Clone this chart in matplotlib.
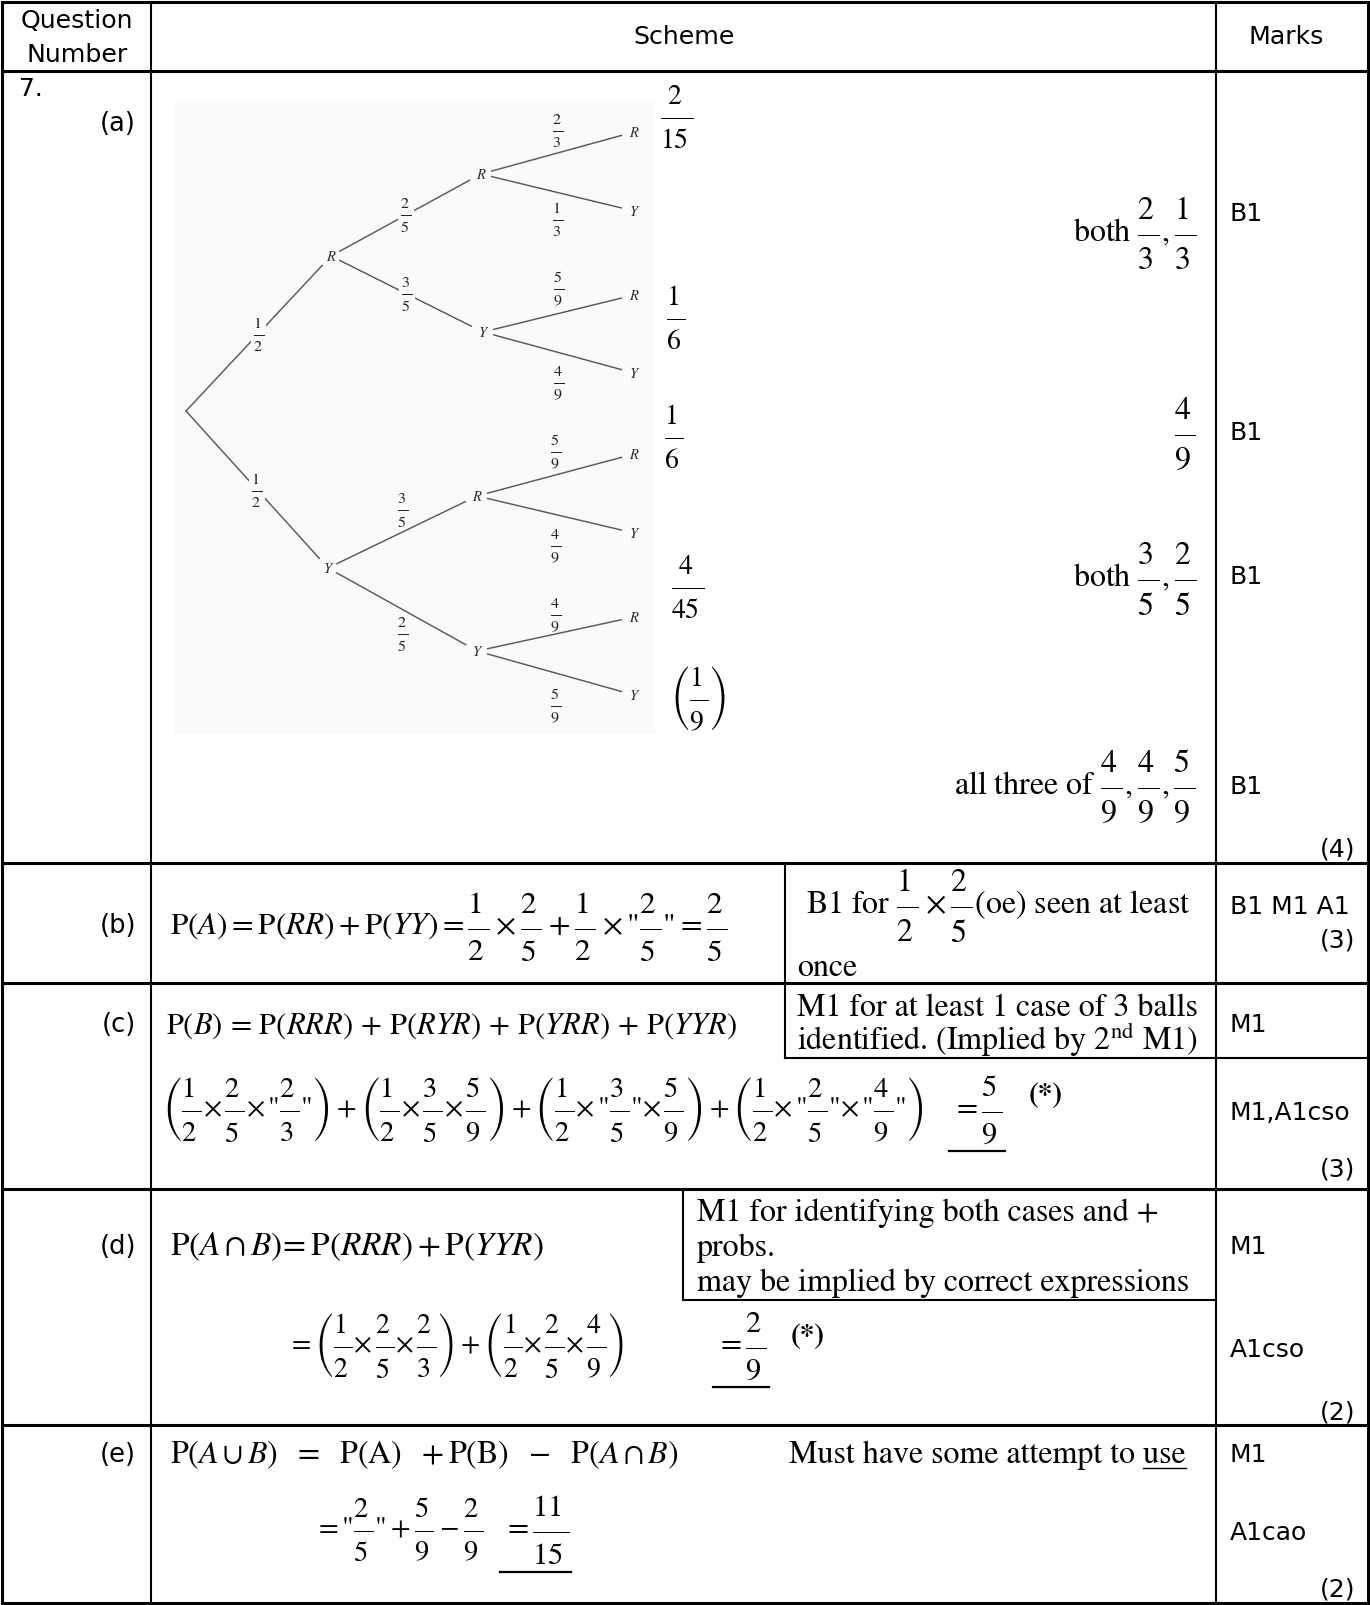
import math
import matplotlib
matplotlib.use('Agg')
import matplotlib.pyplot as plt
from matplotlib.patches import Rectangle
from matplotlib.mathtext import MathTextParser

plt.rcParams['mathtext.fontset'] = 'stix'
plt.rcParams['font.family'] = ['DejaVu Sans']
SERIF = 'STIXGeneral'
SANS = 'DejaVu Sans'

# ---------------- data ----------------
header_labels = ['Question\nNumber', 'Scheme', 'Marks']
question_number = '7.'
part_labels = ['(a)', '(b)', '(c)', '(d)', '(e)']
part_totals = ['(4)', '(3)', '(3)', '(2)', '(2)']

tree_level1_nodes = ['R', 'Y']
tree_level1_probs = ['1/2', '1/2']
tree_level2_nodes = ['R', 'Y', 'R', 'Y']
tree_level2_probs = ['2/5', '3/5', '3/5', '2/5']
tree_level3_nodes = ['R', 'Y', 'R', 'Y', 'R', 'Y', 'R', 'Y']
tree_level3_probs = ['2/3', '1/3', '5/9', '4/9', '5/9', '4/9', '4/9', '5/9']
tree_outcome_probs = ['2/15', '1/6', '1/6', '4/45', '(1/9)']

a_prefixes = ['both', '', 'both', 'all three of']
a_fracs = [['2/3', '1/3'], ['4/9'], ['3/5', '2/5'], ['4/9', '4/9', '5/9']]
a_marks = ['B1', 'B1', 'B1', 'B1']

b_products = [['1/2', '2/5'], ['1/2', '"2/5"']]
b_result = '2/5'
b_note = ['B1 for', ['1/2', '2/5'], '(oe) seen at least', 'once']
b_marks = ['B1 M1 A1']

c_events = ['RRR', 'RYR', 'YRR', 'YYR']
c_products = [['1/2', '2/5', '"2/3"'], ['1/2', '3/5', '5/9'],
              ['1/2', '"3/5"', '5/9'], ['1/2', '"2/5"', '"4/9"']]
c_result = '5/9'
c_note = ['M1 for at least 1 case of 3 balls', 'identified. (Implied by 2', 'nd', ' M1)']
c_marks = ['M1', 'M1,A1cso']

d_events = ['RRR', 'YYR']
d_products = [['1/2', '2/5', '2/3'], ['1/2', '2/5', '4/9']]
d_result = '2/9'
d_note = ['M1 for identifying both cases and +', 'probs.',
          'may be implied by correct expressions']
d_marks = ['M1', 'A1cso']

e_terms = ['"2/5"', '5/9', '2/9']
e_result = '11/15'
e_note = ['Must have some attempt to', 'use']
e_marks = ['M1', 'A1cao']


# ---------------- helpers ----------------
_parser = MathTextParser('path')


def _ok(s):
    try:
        _parser.parse(s, 72)
        return True
    except Exception:
        return False


def pick_quote():
    for q in [r'\text{"}', '\u2033', r'\prime\prime']:
        if _ok('$' + q + '$'):
            return q
    return "''"


Q = pick_quote()
NUM_T = r'{\genfrac{}{}{0}{0}{%s}{\,}}'
DEN_T = r'{\genfrac{}{}{0}{0}{\,}{%s}}'
NEST = _ok('$\\dfrac{' + NUM_T % '2' + '}{' + DEN_T % '3' + '}$')
TIGHT_X = r'{\times}\,' if _ok(r'$2{\times}\,3$') else r'\times '


def fr(s):
    quoted = s.startswith('"')
    core = s.strip('"')
    paren = core.startswith('(')
    core = core.strip('()')
    n, d = core.split('/')
    if NEST:
        n = NUM_T % n
        d = DEN_T % d
    body = r'\dfrac{%s}{%s}' % (n, d)
    if paren:
        body = r'\left(' + body + r'\right)'
    if quoted:
        body = Q + body + Q
    return body


def prod(items, tight=False):
    return (TIGHT_X if tight else r'\times ').join(fr(i) for i in items)


W, H = 1370, 1606
fig = plt.figure(figsize=(W / 100, H / 100), dpi=100)
ax = fig.add_axes([0, 0, 1, 1])
ax.set_xlim(0, W)
ax.set_ylim(H, 0)
ax.axis('off')


def T(x, y, s, size, ha='left', va='center', family=SERIF, **kw):
    return ax.text(x, y, s, fontsize=size, ha=ha, va=va, family=family, **kw)


def hline(x0, x1, y, lw):
    ax.plot([x0, x1], [y, y], color='black', lw=lw, solid_capstyle='projecting')


def vline(x, y0, y1, lw):
    ax.plot([x, x], [y0, y1], color='black', lw=lw, solid_capstyle='projecting')


# ---------------- table grid ----------------
XL, XQ, XM, XR = 2, 151, 1216, 1368
YT, YH = 3, 72
row_bounds = [72, 864, 984, 1190, 1426, 1604]
THICK, THIN = 2.2, 1.5

hline(XL, XR, YT, THICK)
for yb in row_bounds:
    hline(XL, XR, yb, THICK)
for xv in [XL, XQ, XM, XR]:
    vline(xv, YT, row_bounds[-1], THIN if xv in (XQ, XM) else THICK)

# note boxes
vline(785, 864, 984, THIN)
vline(785, 984, 1059, THIN)
hline(785, XR, 1059, THIN)
vline(683, 1190, 1301, THIN)
hline(683, XM, 1301, THIN)

# ---------------- header ----------------
T(77, 38, header_labels[0], 18.2, ha='center', family=SANS, linespacing=1.5)
T(684, 37, header_labels[1], 18.2, ha='center', family=SANS)
T(1286, 37, header_labels[2], 18.2, ha='center', family=SANS)

# question / part labels
T(19, 89, question_number, 18, family=SANS)
part_y = [124, 926, 1025, 1247, 1455]
for lab, yp in zip(part_labels, part_y):
    T(136, yp, lab, 18.5, ha='right', family=SANS)
total_y = [850, 941, 1170, 1413, 1590]
for lab, yp in zip(part_totals, total_y):
    T(1355, yp, lab, 18, ha='right', family=SANS)

# ---------------- tree diagram ----------------
BG = '#fafafa'
ax.add_patch(Rectangle((174, 102), 481, 633, fc=BG, ec='none', zorder=0))
LINE_C = '#5a5a5a'
root = (186, 412)
lvl1 = [(331, 257), (328, 569)]
lvl2 = [(481, 175), (483, 333), (477, 497), (477, 652)]
lvl3_x = 634
lvl3_y = [133, 212, 296, 374, 455, 534, 618, 696]
lvl3 = [(lvl3_x, yv) for yv in lvl3_y]


def branch(p, c, d0, d1):
    dx, dy = c[0] - p[0], c[1] - p[1]
    L = math.hypot(dx, dy)
    ux, uy = dx / L, dy / L
    a = (p[0] + ux * d0, p[1] + uy * d0)
    b = (c[0] - ux * d1, c[1] - uy * d1)
    ax.plot([a[0], b[0]], [a[1], b[1]], color=LINE_C, lw=1.05, zorder=1)
    return ((p[0] + c[0]) / 2, (p[1] + c[1]) / 2)


node_style = dict(style='italic', color='#2a2a3a')
lab_bbox = dict(boxstyle='square,pad=0.1', fc=BG, ec='none')
TREE_FS = 11.5

for i, (node, pr) in enumerate(zip(tree_level1_nodes, tree_level1_probs)):
    mx, my = branch(root, lvl1[i], 0, 13)
    T(lvl1[i][0], lvl1[i][1], node, 10.5, ha='center', **node_style)
    T(mx, my, '$' + fr(pr) + '$', TREE_FS, ha='center', color='#222222', bbox=lab_bbox, zorder=3)

l2_dy = [0, 0, -22, 24]
for j, (node, pr) in enumerate(zip(tree_level2_nodes, tree_level2_probs)):
    par = lvl1[j // 2]
    mx, my = branch(par, lvl2[j], 10, 13)
    T(lvl2[j][0], lvl2[j][1], node, 10.5, ha='center', **node_style)
    kw = dict(bbox=lab_bbox) if l2_dy[j] == 0 else {}
    T(mx, my + l2_dy[j], '$' + fr(pr) + '$', TREE_FS, ha='center', color='#222222', zorder=3, **kw)

l3_dy = [-23, 26, -25, 30, -24, 31, -19, 32]
for k, (node, pr) in enumerate(zip(tree_level3_nodes, tree_level3_probs)):
    par = lvl2[k // 2]
    mx, my = branch(par, lvl3[k], 11, 13)
    T(lvl3[k][0], lvl3[k][1], node, 10.5, ha='center', **node_style)
    T(mx, my + l3_dy[k], '$' + fr(pr) + '$', TREE_FS, ha='center', color='#222222', zorder=3)

outcome_pos = [(677, 117), (676, 318), (674, 437), (688, 587), (698, 699)]
for pr, (xo, yo) in zip(tree_outcome_probs, outcome_pos):
    T(xo, yo, '$' + fr(pr) + '$', 20, ha='center')

# (a) right-hand notes and marks
a_note_y = [233, 434, 579, 787]
for pre, fl, yv in zip(a_prefixes, a_fracs, a_note_y):
    s = ','.join(fr(f) for f in fl)
    txt = (pre + ' ' if pre else '') + '$' + s + '$'
    T(1196, yv, txt, 23, ha='right')
a_mark_y = [214, 433, 577, 787]
for m, yv in zip(a_marks, a_mark_y):
    T(1230, yv, m, 18, family=SANS)

NOTE_FS = 23

# ---------------- (b) ----------------
b_str = (r'$\mathrm{P}\left(A\right)=\mathrm{P}\left(RR\right)+\mathrm{P}(YY)='
         + '+'.join(prod(p) for p in b_products) + '=' + fr(b_result) + '$')
T(170, 927, b_str, 22.5)
T(806, 906, b_note[0] + ' $' + prod(b_note[1]) + '$' + b_note[2], NOTE_FS)
T(797, 968, b_note[3], NOTE_FS)
T(1230, 907, b_marks[0], 18, family=SANS)

# ---------------- (c) ----------------
c_str = (r'$\mathrm{P}(B)\,=\,' + r'\,+\,'.join(r'\mathrm{P}(%s)' % e for e in c_events) + '$')
T(166, 1026, c_str, 22)
T(797, 1008, c_note[0], NOTE_FS)
T(797, 1040, c_note[1] + '$^{\\mathrm{' + c_note[2] + '}}$' + c_note[3], NOTE_FS)
c_big = '$' + '+'.join(r'\left(' + prod(p, tight=True) + r'\right)' for p in c_products) + '$'
T(162, 1110, c_big, 20.5)
c_res = T(952, 1110, '$=' + fr(c_result) + '$', 22)
T(1029, 1096, '(*)', 21, weight='bold')
c_mark_y = [1025, 1113]
for m, yv in zip(c_marks, c_mark_y):
    T(1230, yv, m, 18, family=SANS)

# ---------------- (d) ----------------
d_str = (r'$\mathrm{P}(A\cap B)\!=\mathrm{P}\left(' + d_events[0] + r'\right)+\mathrm{P}(' + d_events[1] + ')$')
T(170, 1247, d_str, 24)
for line, yv in zip(d_note, [1213, 1248, 1283]):
    T(697, yv, line, NOTE_FS)
d_big = '$=' + '+'.join(r'\left(' + prod(p, tight=True) + r'\right)' for p in d_products) + '$'
T(287, 1346, d_big, 20)
d_res = T(716, 1346, '$=' + fr(d_result) + '$', 22)
T(791, 1337, '(*)', 21, weight='bold')
d_mark_y = [1247, 1350]
for m, yv in zip(d_marks, d_mark_y):
    T(1230, yv, m, 18, family=SANS)

# ---------------- (e) ----------------
e_str = (r'$\mathrm{P}(A\cup B)\ \ =\ \ \mathrm{P}\left(\mathrm{A}\right)\ \ +\mathrm{P}\left(\mathrm{B}\right)'
         r'\ \ -\ \ \mathrm{P}(A\cap B)$')
T(170, 1455, e_str, 23)
e_full = T(789, 1455, e_note[0] + ' ' + e_note[1], NOTE_FS)
e_use = T(789, 1455, e_note[1], NOTE_FS, alpha=0)
e_expr = '$=' + fr(e_terms[0]) + '+' + fr(e_terms[1]) + '-' + fr(e_terms[2]) + '$'
T(314, 1530, e_expr, 20.5)
e_res = T(503, 1530, '$=' + fr(e_result) + '$', 22)
e_mark_y = [1455, 1533]
for m, yv in zip(e_marks, e_mark_y):
    T(1230, yv, m, 18, family=SANS)

# ---------------- underlines from measured text extents ----------------
fig.canvas.draw()
r = fig.canvas.get_renderer()
inv = ax.transData.inverted()


def ext(t):
    bb = t.get_window_extent(r)
    (x0, y0), (x1, y1) = inv.transform([[bb.x0, bb.y0], [bb.x1, bb.y1]])
    return x0, x1, max(y0, y1), min(y0, y1)


for t in (c_res, d_res, e_res):
    x0, x1, ybot, ytop = ext(t)
    hline(x0 - 3, x1 + 2, ybot + 6, 1.6)

fx0, fx1, fyb, fyt = ext(e_full)
ux0, ux1, uyb, uyt = ext(e_use)
uw = ux1 - ux0
ax.plot([fx1 - uw, fx1], [1469, 1469], color='black', lw=1.0)

fig.savefig('out.png', dpi=100, facecolor='white')
